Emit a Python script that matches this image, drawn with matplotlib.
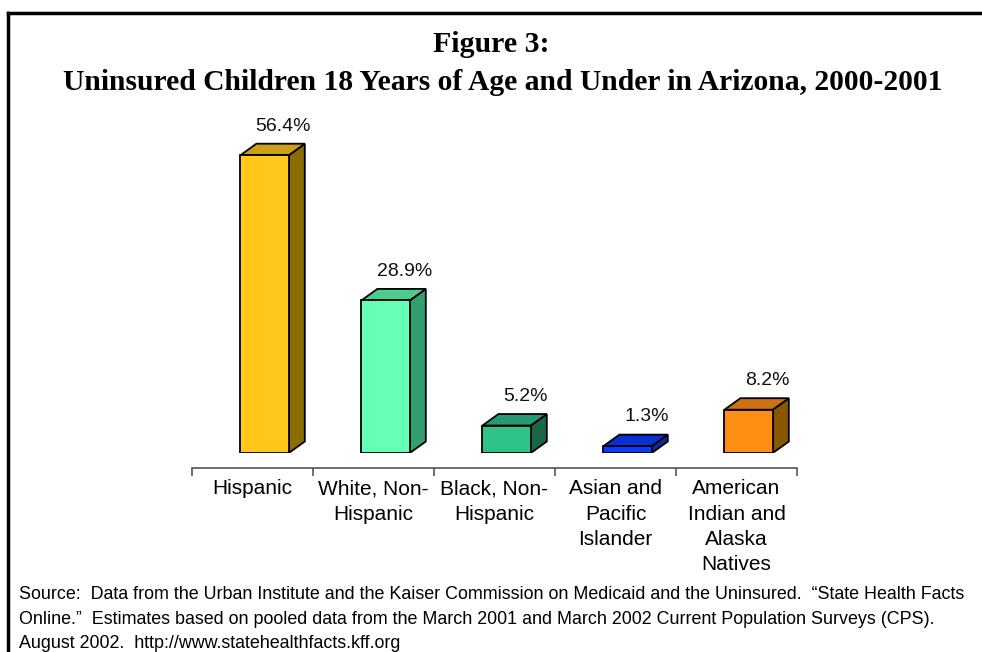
import matplotlib
matplotlib.use("Agg")
import matplotlib.pyplot as plt
from matplotlib.patches import Polygon
from matplotlib.lines import Line2D

categories = ["Hispanic", "White, Non-\nHispanic", "Black, Non-\nHispanic",
              "Asian and\nPacific\nIslander", "American\nIndian and\nAlaska\nNatives"]
values = [56.4, 28.9, 5.2, 1.3, 8.2]
labels = ["56.4%", "28.9%", "5.2%", "1.3%", "8.2%"]

front_colors = ["#FFC81A", "#66FFB8", "#2EC489", "#0A3AF5", "#FF8E14"]
top_colors = ["#CCA016", "#4CCC8F", "#269970", "#0A2FD0", "#CC7210"]
side_colors = ["#8A6C00", "#339E6E", "#1A6647", "#0A2A9E", "#8A5700"]

W, H = 982, 652
fig = plt.figure(figsize=(W / 100, H / 100), dpi=100)

# axes box in pixels: x 192..797, y=0 at 453 px, 5.28 px per percent
ymax = 64
ax = fig.add_axes([192 / W, 1 - 453 / H, 605 / W, ymax * 5.28 / H])
ax.set_xlim(-0.5, 4.5)
ax.set_ylim(0, ymax)

bw = 0.40          # front face width (category units)
shift = 0.10       # bars sit slightly right of the category centre
dx = 16 / 121      # depth offset, x (category units)
dy = 11.5 / 5.28   # depth offset, y (percent units)

for i, v in enumerate(values):
    x0 = i + shift - bw / 2
    x1 = x0 + bw
    ec = dict(edgecolor="black", linewidth=1.3, joinstyle="miter")
    ax.add_patch(Polygon([(x1, 0), (x1 + dx, dy), (x1 + dx, v + dy), (x1, v)],
                         closed=True, facecolor=side_colors[i], **ec))
    ax.add_patch(Polygon([(x0, v), (x1, v), (x1 + dx, v + dy), (x0 + dx, v + dy)],
                         closed=True, facecolor=top_colors[i], **ec))
    ax.bar(i + shift, v, width=bw, bottom=0, color=front_colors[i], **ec)
    ax.annotate(labels[i], (i + shift + dx, v + dy), xytext=(2, 9.5),
                textcoords="offset points", ha="center", va="baseline",
                fontsize=14, family="Liberation Sans", color="#111111")

for s in ["top", "right", "left"]:
    ax.spines[s].set_visible(False)
ax.spines["bottom"].set_position(("outward", 11))
ax.spines["bottom"].set_color("#555555")
ax.spines["bottom"].set_linewidth(1.2)
ax.set_yticks([])
ax.set_xticks([-0.5, 0.5, 1.5, 2.5, 3.5, 4.5])
ax.set_xticklabels([])
ax.tick_params(axis="x", which="major", direction="out", length=6, width=1.2, color="#555555")
ax.set_xticks(range(len(categories)), minor=True)
ax.set_xticklabels(categories, minor=True, fontsize=15, family="Liberation Sans",
                   linespacing=1.42, va="top")
ax.tick_params(axis="x", which="minor", length=0, pad=8)
ax.patch.set_alpha(0)

fig.text(491 / W, 1 - 44 / H, "Figure 3:", ha="center", va="center",
         fontsize=21.5, family="Liberation Serif", fontweight="bold")
fig.text(503 / W, 1 - 82 / H, "Uninsured Children 18 Years of Age and Under in Arizona, 2000-2001",
         ha="center", va="center", fontsize=21.3, family="Liberation Serif", fontweight="bold")

source = ("Source:  Data from the Urban Institute and the Kaiser Commission on Medicaid and the Uninsured.  \u201cState Health Facts\n"
          "Online.\u201d  Estimates based on pooled data from the March 2001 and March 2002 Current Population Surveys (CPS).\n"
          "August 2002.  http://www.statehealthfacts.kff.org")
fig.text(19 / W, 1 - 586 / H, source, ha="left", va="top", fontsize=12.9,
         family="Liberation Sans", linespacing=1.58)

# border on the left and top edges
fig.add_artist(Line2D([8 / W, 8 / W], [0, 1 - 13 / H], color="black", linewidth=2.5,
                      transform=fig.transFigure))
fig.add_artist(Line2D([8 / W, 1], [1 - 13 / H, 1 - 13 / H], color="black", linewidth=2.5,
                      transform=fig.transFigure, solid_capstyle="projecting"))

fig.savefig("out.png", dpi=100)
